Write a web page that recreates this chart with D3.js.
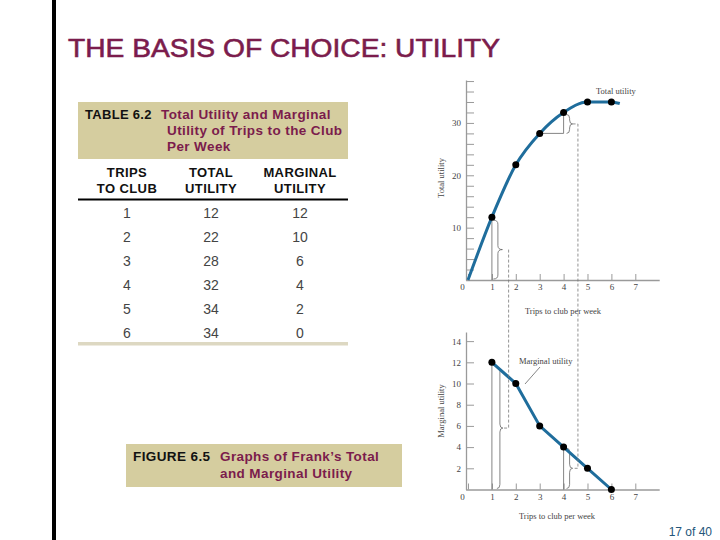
<!DOCTYPE html>
<html>
<head>
<meta charset="utf-8">
<script src="https://cdn.jsdelivr.net/npm/d3@7"></script>
<style>
  body { margin: 0; background: #fff; }
  svg { display: block; }
</style>
</head>
<body>
<svg id="slide" width="720" height="540"></svg>
<script>
// data
var trips = [1, 2, 3, 4, 5, 6];
var totalUtility = [12, 22, 28, 32, 34, 34];
var marginalUtility = [12, 10, 6, 4, 2, 0];
var colHeaders = [["TRIPS", "TO CLUB"], ["TOTAL", "UTILITY"], ["MARGINAL", "UTILITY"]];
var xTickValues = [0, 1, 2, 3, 4, 5, 6, 7];
var totalTicks = d3.range(2, 39, 2);
var totalLabels = [10, 20, 30];
var marginalTicks = [2, 4, 6, 8, 10, 12, 14];
var curveTail = [6.35, 33.7];

var maroon = "#7b1c4c", beige = "#d5cd9f", lineBlue = "#1f6d9c", axisGray = "#9a9a9a";
var sans = "'Liberation Sans', Arial, sans-serif", serif = "'Liberation Serif', 'Times New Roman', serif";

var svg = d3.select("#slide");

// left bar + title
svg.append("rect").attr("x", 52).attr("y", 0).attr("width", 4).attr("height", 540).attr("fill", "#000");
svg.append("text").attr("x", 68).attr("y", 57)
    .attr("font-family", sans).attr("font-size", 26).attr("fill", maroon)
    .attr("stroke", maroon).attr("stroke-width", 0.6)
    .attr("textLength", 432).attr("lengthAdjust", "spacingAndGlyphs")
    .text("THE BASIS OF CHOICE: UTILITY");

// ---- table 6.2
var tbl = svg.append("g").attr("font-family", sans);
tbl.append("rect").attr("x", 78).attr("y", 102).attr("width", 270).attr("height", 57).attr("fill", beige);
tbl.append("text").attr("x", 85).attr("y", 119).attr("font-size", 13).attr("font-weight", "bold")
    .attr("letter-spacing", 0.3).attr("fill", "#111").text("TABLE 6.2");
[["Total Utility and Marginal", 161, 119], ["Utility of Trips to the Club", 167, 135], ["Per Week", 167, 151]]
    .forEach(function(l) {
        tbl.append("text").attr("x", l[1]).attr("y", l[2]).attr("font-size", 13.5).attr("letter-spacing", 0.4)
            .attr("font-weight", "bold").attr("fill", maroon).text(l[0]);
    });

var colCenters = [127, 211, 300];
colHeaders.forEach(function(h, i) {
    h.forEach(function(s, j) {
        tbl.append("text").attr("x", colCenters[i]).attr("y", 177 + j * 16)
            .attr("text-anchor", "middle").attr("font-size", 13).attr("font-weight", "bold")
            .attr("letter-spacing", 0.4).attr("fill", "#111").text(s);
    });
});
tbl.append("rect").attr("x", 78).attr("y", 198.5).attr("width", 270).attr("height", 2).attr("fill", "#000");

var rowY = d3.scaleLinear().domain([0, 5]).range([218, 338]);
trips.forEach(function(t, i) {
    [t, totalUtility[i], marginalUtility[i]].forEach(function(v, c) {
        tbl.append("text").attr("x", colCenters[c]).attr("y", rowY(i))
            .attr("text-anchor", "middle").attr("font-size", 14).attr("fill", "#444").text(v);
    });
});
tbl.append("rect").attr("x", 78).attr("y", 342).attr("width", 270).attr("height", 3.5).attr("fill", "#ddd8c2");

// ---- caption figure 6.5
var cap = svg.append("g").attr("font-family", sans).attr("font-size", 13.5).attr("font-weight", "bold")
    .attr("letter-spacing", 0.4);
cap.append("rect").attr("x", 126).attr("y", 444).attr("width", 276).attr("height", 43).attr("fill", beige);
cap.append("text").attr("x", 133).attr("y", 461).attr("fill", "#111").text("FIGURE 6.5");
cap.append("text").attr("x", 220).attr("y", 461).attr("fill", maroon).text("Graphs of Frank\u2019s Total");
cap.append("text").attr("x", 220).attr("y", 478).attr("fill", maroon).text("and Marginal Utility");

// page number
svg.append("text").attr("x", 712).attr("y", 536).attr("text-anchor", "end")
    .attr("font-family", sans).attr("font-size", 12).attr("fill", "#24567a").text("17 of 40");

// ---- charts
var x = d3.scaleLinear().domain([-0.1, 8]).range([465.6, 659.2]);
var yTop = d3.scaleLinear().domain([0, 38.2]).range([280, 80]);
var yBot = d3.scaleLinear().domain([0, 14.86]).range([489.5, 332]);

function drawAxes(g, y, ticks, labelFn, y0px) {
    var xa = g.append("g").attr("transform", "translate(0," + y0px + ")")
        .call(d3.axisBottom(x).tickValues(xTickValues).tickSizeInner(-6).tickSizeOuter(0).tickPadding(4));
    xa.selectAll("text").attr("x", function(d) { return d === 0 ? -6 : 0; });
    var ya = g.append("g").attr("transform", "translate(466,0)")
        .call(d3.axisLeft(y).tickValues(ticks).tickSizeInner(-8).tickSizeOuter(0).tickPadding(5).tickFormat(labelFn));
    [xa, ya].forEach(function(a) {
        a.select(".domain").attr("stroke", axisGray).attr("stroke-width", 1.3);
        a.selectAll(".tick line").attr("stroke", axisGray).attr("stroke-width", 1);
        a.selectAll("text").attr("font-family", serif).attr("font-size", 9).attr("fill", "#444");
    });
}

function brace(x0, ya, yb, w) {
    var r = Math.min(4, (yb - ya) / 4), ym = (ya + yb) / 2, xm = x0 + w / 2;
    return "M" + x0 + "," + ya + "Q" + xm + "," + ya + " " + xm + "," + (ya + r) +
        "L" + xm + "," + (ym - r) + "Q" + xm + "," + ym + " " + (x0 + w) + "," + ym +
        "Q" + xm + "," + ym + " " + xm + "," + (ym + r) +
        "L" + xm + "," + (yb - r) + "Q" + xm + "," + yb + " " + x0 + "," + yb;
}

var thin = function(sel) { return sel.attr("stroke", "#666").attr("stroke-width", 0.8).attr("fill", "none"); };

// top chart
var topG = svg.append("g");
drawAxes(topG, yTop, totalTicks, function(d) { return totalLabels.indexOf(d) >= 0 ? d : ""; }, 280);

thin(topG.append("line").attr("x1", x(1)).attr("x2", x(1)).attr("y1", yTop(12)).attr("y2", yTop(0)));
thin(topG.append("path").attr("d", brace(x(1) + 1.5, yTop(12) + 3, yTop(0) - 1, 9)));
thin(topG.append("line").attr("x1", x(3)).attr("x2", x(4)).attr("y1", yTop(28)).attr("y2", yTop(28)));
thin(topG.append("line").attr("x1", x(4)).attr("x2", x(4)).attr("y1", yTop(32)).attr("y2", yTop(28)));
thin(topG.append("path").attr("d", brace(x(4) + 3, yTop(32) + 2, yTop(28), 6)));

var pts = [[0, 0]].concat(trips.map(function(t, i) { return [t, totalUtility[i]]; }));
topG.append("path").datum(pts.concat([curveTail]))
    .attr("d", d3.line().x(function(d) { return x(d[0]); }).y(function(d) { return yTop(d[1]); }).curve(d3.curveMonotoneX))
    .attr("fill", "none").attr("stroke", lineBlue).attr("stroke-width", 3);
topG.selectAll("circle").data(pts.slice(1)).enter().append("circle")
    .attr("cx", function(d) { return x(d[0]); }).attr("cy", function(d) { return yTop(d[1]); })
    .attr("r", 3.5).attr("fill", "#000");

topG.append("text").attr("x", 596).attr("y", 94).attr("font-family", serif).attr("font-size", 8.5)
    .attr("fill", "#444").text("Total utility");
topG.append("text").attr("x", 563).attr("y", 314).attr("text-anchor", "middle").attr("font-family", serif)
    .attr("font-size", 8.5).attr("fill", "#444").text("Trips to club per week");
topG.append("text").attr("transform", "translate(444,178) rotate(-90)").attr("text-anchor", "middle")
    .attr("font-family", serif).attr("font-size", 8.5).attr("fill", "#444").text("Total utility");

// bottom chart
var botG = svg.append("g");
drawAxes(botG, yBot, marginalTicks, function(d) { return d; }, 489.5);

thin(botG.append("line").attr("x1", x(1)).attr("x2", x(1)).attr("y1", yBot(12)).attr("y2", yBot(0)));
thin(botG.append("path").attr("d", brace(x(1) + 5, yBot(11.5), yBot(0) - 1, 6)));
thin(botG.append("line").attr("x1", x(4)).attr("x2", x(4)).attr("y1", yBot(4)).attr("y2", yBot(0)));
thin(botG.append("path").attr("d", brace(x(4) + 3, yBot(4) + 1, yBot(0) - 1, 6)));

var mpts = trips.map(function(t, i) { return [t, marginalUtility[i]]; });
botG.append("path").datum(mpts)
    .attr("d", d3.line().x(function(d) { return x(d[0]); }).y(function(d) { return yBot(d[1]); }))
    .attr("fill", "none").attr("stroke", lineBlue).attr("stroke-width", 3);
botG.selectAll("circle").data(mpts).enter().append("circle")
    .attr("cx", function(d) { return x(d[0]); }).attr("cy", function(d) { return yBot(d[1]); })
    .attr("r", 3.5).attr("fill", "#000");

botG.append("text").attr("x", 519).attr("y", 364).attr("font-family", serif).attr("font-size", 8.5)
    .attr("fill", "#444").text("Marginal utility");
thin(botG.append("line").attr("x1", 540).attr("y1", 367).attr("x2", 525).attr("y2", 384));
botG.append("text").attr("x", 557).attr("y", 519).attr("text-anchor", "middle").attr("font-family", serif)
    .attr("font-size", 8.5).attr("fill", "#444").text("Trips to club per week");
botG.append("text").attr("transform", "translate(444,411) rotate(-90)").attr("text-anchor", "middle")
    .attr("font-family", serif).attr("font-size", 8.5).attr("fill", "#444").text("Marginal utility");

// dashed connectors between the two charts
var dashA = x(1.7), dashB = x(4.6);
var tipTopA = (yTop(12) + 3 + yTop(0) - 1) / 2, tipBotA = (yBot(11.5) + yBot(0) - 1) / 2;
var tipTopB = (yTop(32) + 2 + yTop(28)) / 2, tipBotB = (yBot(4) + 1 + yBot(0) - 1) / 2;
var dashed = svg.append("g").attr("stroke", "#777").attr("stroke-width", 0.8).attr("stroke-dasharray", "3,2").attr("fill", "none");
dashed.append("path").attr("d", "M" + dashA + "," + tipTopA + "V" + tipBotA + "H" + (x(1) + 11));
dashed.append("path").attr("d", "M" + (x(4) + 9) + "," + tipTopB + "H" + dashB + "V" + tipBotB + "H" + (x(4) + 9));
</script>
</body>
</html>
